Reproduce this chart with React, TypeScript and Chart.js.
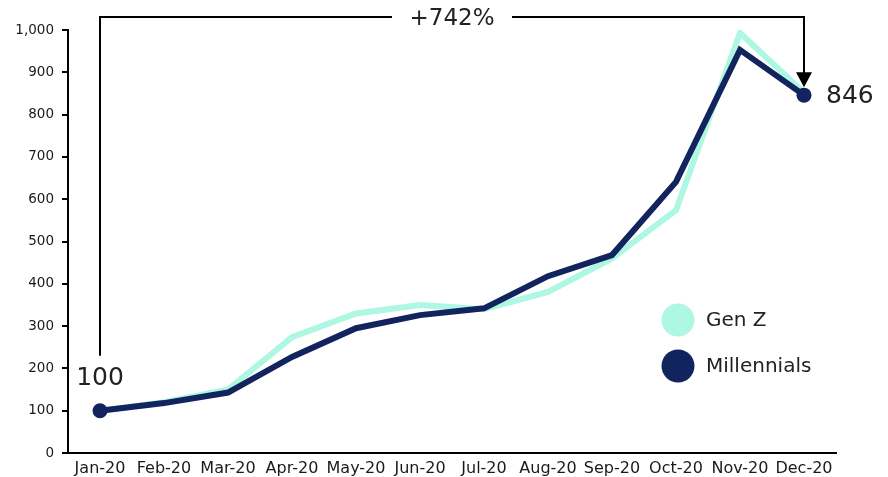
import React, { useEffect, useRef } from "react";
import { Chart, registerables } from "chart.js";

Chart.register(...registerables);

const months = ["Jan-20", "Feb-20", "Mar-20", "Apr-20", "May-20", "Jun-20", "Jul-20", "Aug-20", "Sep-20", "Oct-20", "Nov-20", "Dec-20"];
const genZ = [100, 120, 150, 274, 330, 350, 340, 381, 460, 574, 993, 852];
const millennials = [100, 118, 143, 227, 295, 326, 342, 418, 468, 641, 953, 846];
const changeLabel = "+742%";
const seriesNames = ["Gen Z", "Millennials"];

const MINT = "#aef7e2";
const NAVY = "#12245e";
const FONT = "'DejaVu Sans', sans-serif";

const annotationPlugin = {
  id: "growthAnnotation",
  afterDatasetsDraw(chart: any) {
    const { ctx, scales } = chart;
    const x = scales.x;
    const y = scales.y;
    const last = millennials.length - 1;
    const x0 = x.getPixelForValue(0);
    const x1 = x.getPixelForValue(last);
    const y0 = y.getPixelForValue(millennials[0]);
    const y1 = y.getPixelForValue(millennials[last]);
    const topY = 17;
    const midX = (x0 + x1) / 2;

    ctx.save();
    // bracket connecting the first and last value
    ctx.strokeStyle = "#000";
    ctx.lineWidth = 2;
    ctx.beginPath();
    ctx.moveTo(x0, y0 - 55);
    ctx.lineTo(x0, topY);
    ctx.lineTo(midX - 60, topY);
    ctx.moveTo(midX + 60, topY);
    ctx.lineTo(x1, topY);
    ctx.lineTo(x1, y1 - 20);
    ctx.stroke();
    // arrow head
    ctx.fillStyle = "#000";
    ctx.beginPath();
    ctx.moveTo(x1 - 8, y1 - 23);
    ctx.lineTo(x1 + 8, y1 - 23);
    ctx.lineTo(x1, y1 - 8);
    ctx.closePath();
    ctx.fill();

    ctx.fillStyle = "#222";
    ctx.textBaseline = "middle";
    ctx.textAlign = "center";
    ctx.font = `23px ${FONT}`;
    ctx.fillText(changeLabel, midX, topY + 2);

    ctx.font = `25px ${FONT}`;
    ctx.fillText(String(millennials[0]), x0, y0 - 32);
    ctx.textAlign = "left";
    ctx.fillText(String(millennials[last]), x1 + 22, y1 + 1);

    // legend
    const lx = 678;
    const items = [
      { label: seriesNames[0], color: MINT, cy: 320 },
      { label: seriesNames[1], color: NAVY, cy: 366 },
    ];
    ctx.font = `20px ${FONT}`;
    for (const it of items) {
      ctx.fillStyle = it.color;
      ctx.beginPath();
      ctx.arc(lx, it.cy, 16.5, 0, Math.PI * 2);
      ctx.fill();
      ctx.fillStyle = "#222";
      ctx.textAlign = "left";
      ctx.fillText(it.label, lx + 28, it.cy + 1);
    }
    ctx.restore();
  },
};

export default function App() {
  const ref = useRef<HTMLCanvasElement | null>(null);

  useEffect(() => {
    document.body.style.margin = "0";
    const pointRadius = millennials.map((_, i) => (i === 0 || i === millennials.length - 1 ? 7.5 : 0));
    const chart = new Chart(ref.current as HTMLCanvasElement, {
      type: "line",
      data: {
        labels: months,
        datasets: [
          {
            label: seriesNames[1],
            data: millennials,
            borderColor: NAVY,
            backgroundColor: NAVY,
            borderWidth: 6,
            pointRadius,
            pointHoverRadius: pointRadius,
            pointBackgroundColor: NAVY,
            pointBorderWidth: 0,
            tension: 0,
            order: 0,
          },
          {
            label: seriesNames[0],
            data: genZ,
            borderColor: MINT,
            backgroundColor: MINT,
            borderWidth: 6,
            pointRadius: 0,
            tension: 0,
            order: 1,
          },
        ],
      },
      options: {
        animation: false,
        responsive: false,
        maintainAspectRatio: false,
        layout: { autoPadding: false, padding: { left: 0, top: 30, right: 52, bottom: 0 } } as any,
        plugins: { legend: { display: false }, tooltip: { enabled: false } },
        scales: {
          x: {
            offset: true,
            grid: { display: false, drawTicks: false },
            border: { display: true, color: "#000", width: 2 },
            ticks: { color: "#1a1a1a", font: { family: FONT, size: 16 }, padding: 6, maxRotation: 0, autoSkip: false },
            afterFit: (s: any) => { s.height = 24; },
          },
          y: {
            min: 0,
            max: 1000,
            grid: { display: true, drawOnChartArea: false, drawTicks: true, tickLength: 6, color: "#000", lineWidth: 2 },
            border: { display: true, color: "#000", width: 2 },
            ticks: { stepSize: 100, color: "#1a1a1a", font: { family: FONT, size: 13.5 }, padding: 8 },
            afterFit: (s: any) => { s.width = 68; },
          },
        },
      },
      plugins: [annotationPlugin],
    });
    return () => chart.destroy();
  }, []);

  return (
    <div style={{ position: "relative", width: 888, height: 477, background: "#fff" }}>
      <canvas ref={ref} width={888} height={477} style={{ width: 888, height: 477 }} />
    </div>
  );
}
